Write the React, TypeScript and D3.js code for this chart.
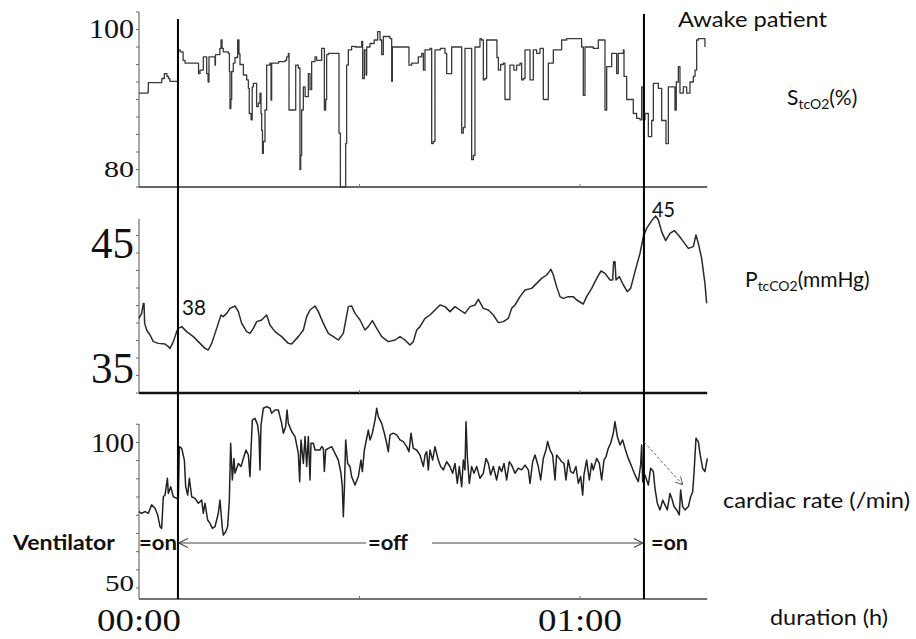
import React from 'react';
import * as d3 from 'd3';

// time in minutes since 00:00
const timeTicks = [0, 60];
const timeLabels = ['00:00', '01:00'];
const minorTimeTicks = [30, 60];
const ventOffStart = 5.3;
const ventOffEnd = 68.7;
const timeEnd = 77.3;

// StcO2 (%)
const spo2Time = [0, 1.2, 1.27, 2.8, 3.1, 3.45, 3.8, 4.0, 4.2, 5.3, 5.35, 5.6, 6.0, 6.26, 7.85, 8.1, 8.3, 8.53, 8.75, 9.0, 9.21, 9.4, 9.52, 10.2, 10.34, 10.4, 10.79, 11.0, 11.16, 11.3, 11.47, 12.16, 12.3, 12.38, 12.5, 12.61, 12.83, 13.06, 13.42, 13.6, 13.74, 14.2, 14.65, 14.88, 15.0, 15.24, 15.4, 15.56, 16.0, 16.24, 16.46, 16.6, 16.69, 16.8, 16.92, 17.14, 17.37, 17.82, 17.96, 18.05, 19.0, 19.86, 20.09, 20.32, 20.41, 21.23, 21.32, 21.68, 21.9, 22.0, 22.13, 22.36, 22.6, 22.81, 23.04, 23.27, 23.49, 23.95, 24.17, 24.85, 25.08, 25.22, 25.4, 25.53, 25.76, 27.12, 27.21, 27.4, 28.03, 28.12, 28.25, 28.48, 28.93, 29.39, 30.29, 30.43, 30.66, 30.9, 30.98, 31.43, 32.0, 32.47, 32.79, 33.02, 33.24, 33.92, 34.15, 34.38, 34.47, 36.64, 36.73, 37.1, 38.0, 38.46, 38.69, 38.91, 39.59, 39.82, 40.04, 40.27, 41.0, 41.63, 41.86, 42.22, 42.54, 43.67, 43.9, 44.13, 44.35, 45.03, 45.26, 45.49, 45.71, 46.39, 46.6, 46.85, 47.07, 47.3, 48.43, 48.7, 48.89, 49.2, 49.57, 49.79, 50.25, 50.47, 51.0, 51.38, 51.84, 52.06, 52.29, 52.52, 53.2, 53.65, 54.1, 54.56, 55.01, 55.46, 55.69, 56.14, 56.37, 57.05, 57.5, 58.18, 60.0, 60.22, 60.45, 60.68, 61.81, 62.49, 63.08, 63.4, 63.63, 64.31, 64.99, 65.21, 65.9, 65.99, 66.35, 67.25, 67.71, 68.16, 68.39, 68.62, 68.84, 69.3, 69.75, 69.98, 70.43, 70.66, 71.11, 71.7, 72.02, 72.7, 72.92, 73.1, 73.38, 73.6, 74.06, 74.51, 74.96, 75.42, 75.65, 75.87, 76.1, 76.78, 77.0];
const spo2Values = [90.9, 91.1, 92.4, 92.4, 93.0, 93.7, 93.3, 93.0, 92.6, 92.6, 97.1, 96.8, 95.6, 95.2, 95.2, 93.7, 94.2, 94.2, 96.1, 96.1, 93.7, 92.5, 96.1, 96.1, 94.9, 96.4, 96.4, 97.3, 98.5, 97.3, 96.8, 96.6, 94.0, 88.7, 90.0, 94.0, 95.2, 96.0, 98.5, 96.5, 95.0, 93.5, 92.8, 91.6, 88.0, 87.1, 91.8, 92.3, 89.0, 89.5, 90.9, 88.0, 85.6, 82.3, 84.0, 88.5, 94.9, 95.2, 89.9, 95.2, 95.4, 95.6, 96.1, 96.6, 88.5, 88.5, 94.9, 94.5, 80.0, 82.0, 88.5, 91.8, 90.4, 90.4, 93.7, 91.4, 95.4, 96.1, 95.6, 97.3, 97.3, 88.5, 90.0, 96.4, 96.6, 96.6, 85.2, 77.5, 77.5, 83.7, 94.9, 97.1, 97.6, 97.5, 98.3, 93.0, 97.1, 93.5, 97.5, 98.0, 98.5, 99.7, 98.5, 96.4, 99.0, 99.0, 98.7, 92.6, 97.5, 97.5, 94.9, 95.2, 96.1, 96.6, 94.2, 97.1, 97.3, 83.7, 84.0, 97.1, 97.3, 96.6, 93.7, 93.7, 97.5, 97.5, 85.2, 86.0, 97.3, 97.3, 81.4, 82.0, 97.5, 98.7, 98.5, 92.8, 93.0, 98.5, 98.5, 96.0, 94.2, 95.0, 95.2, 90.0, 90.0, 94.9, 94.2, 94.9, 95.2, 92.8, 93.0, 97.1, 92.8, 97.1, 96.6, 97.3, 90.0, 90.0, 95.2, 95.2, 97.1, 97.1, 98.5, 98.7, 98.7, 97.5, 90.6, 97.5, 97.3, 98.5, 98.5, 88.5, 94.7, 96.6, 93.7, 96.6, 97.1, 93.3, 90.0, 88.0, 87.3, 87.1, 91.8, 87.1, 88.0, 84.7, 87.0, 92.3, 92.3, 91.6, 87.0, 83.7, 91.8, 91.8, 88.5, 92.5, 94.7, 90.9, 91.8, 90.9, 92.5, 93.3, 94.2, 98.5, 98.7, 98.7, 97.5];

// PtcCO2 (mmHg)
const pco2Time = [0, 0.36, 0.59, 0.68, 0.77, 1.04, 1.5, 1.95, 2.63, 3.54, 3.99, 4.22, 4.67, 5.13, 5.35, 5.81, 6.49, 7.39, 8.3, 8.98, 9.43, 9.89, 10.57, 11.16, 11.47, 11.93, 12.38, 13.06, 13.52, 13.97, 14.65, 15.1, 15.56, 16.01, 16.69, 17.37, 17.82, 18.5, 19.41, 20.32, 20.77, 21.68, 22.36, 22.81, 23.27, 23.95, 24.4, 25.08, 25.76, 26.44, 27.12, 27.8, 28.48, 28.93, 29.39, 30.07, 30.75, 31.2, 31.75, 32.34, 33.02, 33.92, 34.83, 35.51, 36.19, 36.87, 37.32, 37.78, 38.23, 38.91, 39.59, 40.27, 40.95, 41.63, 42.31, 42.99, 43.67, 44.35, 45.03, 45.71, 46.17, 46.85, 47.53, 48.21, 48.89, 49.57, 50.25, 50.7, 51.16, 51.84, 52.52, 53.42, 54.1, 54.78, 55.46, 56.05, 56.37, 56.82, 57.28, 57.73, 58.41, 59.09, 59.55, 60.45, 60.9, 61.59, 62.27, 62.86, 63.4, 64.08, 64.44, 64.58, 64.76, 64.9, 65.35, 65.9, 66.44, 66.89, 67.48, 68.16, 68.62, 69.07, 69.75, 70.29, 70.66, 71.11, 71.65, 72.24, 72.83, 73.38, 74.06, 74.74, 75.42, 75.78, 76.1, 76.55, 77.0, 77.23];
const pco2Values = [38.97, 39.37, 40.17, 40.17, 38.57, 38.04, 37.64, 37.11, 36.97, 36.92, 36.71, 36.57, 37.11, 37.91, 38.17, 38.31, 37.91, 37.51, 36.97, 36.57, 36.44, 36.97, 38.17, 39.24, 39.11, 39.37, 39.77, 39.96, 39.51, 38.57, 37.91, 37.77, 38.17, 38.71, 38.84, 39.24, 38.44, 37.91, 37.51, 36.97, 36.92, 37.51, 38.04, 39.11, 39.64, 39.96, 39.51, 38.57, 37.77, 37.51, 37.24, 37.77, 39.91, 39.96, 39.37, 38.84, 38.04, 38.31, 38.79, 38.17, 37.51, 37.11, 37.24, 37.51, 37.24, 36.84, 37.11, 38.04, 38.31, 38.97, 39.24, 39.64, 40.04, 39.91, 39.51, 39.91, 39.64, 39.37, 39.91, 40.04, 40.49, 39.77, 39.64, 39.24, 38.63, 38.71, 38.97, 39.77, 40.04, 40.71, 41.24, 41.37, 41.77, 42.17, 42.44, 42.89, 42.44, 41.51, 40.71, 40.57, 40.71, 40.71, 40.44, 40.12, 40.71, 41.37, 42.17, 42.76, 42.57, 42.04, 42.04, 43.51, 43.51, 42.04, 42.31, 41.64, 41.11, 41.37, 42.71, 44.17, 45.51, 46.17, 46.79, 47.16, 46.84, 45.91, 45.19, 45.77, 45.99, 45.64, 45.11, 44.57, 44.71, 45.64, 44.97, 43.77, 41.77, 40.17];

// cardiac rate (/min)
const hrTime = [0, 0.36, 0.82, 1.27, 1.72, 2.18, 2.54, 2.86, 3.08, 3.31, 3.54, 3.86, 3.99, 4.31, 4.67, 5.13, 5.35, 5.49, 5.81, 6.17, 6.35, 6.62, 6.85, 7.17, 7.62, 8.07, 8.53, 8.75, 8.98, 9.34, 9.66, 9.98, 10.34, 10.79, 11.02, 11.34, 11.47, 11.79, 12.06, 12.29, 12.47, 12.7, 12.92, 13.06, 13.52, 13.88, 14.2, 14.56, 14.88, 15.1, 15.24, 15.42, 15.78, 16.14, 16.33, 16.46, 16.6, 16.92, 17.37, 17.82, 18.05, 18.5, 18.96, 19.41, 19.64, 19.95, 20.14, 20.32, 20.77, 21.23, 21.68, 21.86, 22.04, 22.36, 22.59, 22.81, 23.04, 23.27, 23.4, 23.72, 23.95, 24.63, 24.85, 25.08, 25.22, 25.4, 25.76, 26.21, 26.67, 27.12, 27.48, 27.66, 27.8, 27.94, 28.12, 28.39, 28.71, 28.93, 29.39, 29.84, 30.2, 30.39, 30.66, 30.98, 31.2, 31.43, 31.75, 32.11, 32.34, 32.56, 33.02, 33.38, 33.7, 33.92, 34.15, 34.6, 35.06, 35.51, 35.96, 36.42, 36.73, 37.01, 37.32, 37.78, 38.23, 38.69, 38.91, 39.14, 39.36, 39.59, 39.95, 40.27, 40.72, 41.04, 41.4, 41.86, 42.31, 42.67, 42.99, 43.31, 43.58, 43.9, 44.13, 44.35, 44.49, 44.67, 44.94, 45.26, 45.58, 45.94, 46.39, 46.85, 47.21, 47.53, 47.84, 48.21, 48.66, 49.02, 49.34, 49.66, 50.02, 50.38, 50.7, 51.16, 51.61, 52.06, 52.52, 52.97, 53.2, 53.56, 53.88, 54.33, 54.65, 55.01, 55.37, 55.6, 55.92, 56.28, 56.6, 56.82, 57.19, 57.5, 57.82, 58.09, 58.41, 58.73, 59.09, 59.45, 59.77, 60.09, 60.36, 60.54, 60.9, 61.27, 61.59, 61.81, 62.27, 62.63, 62.95, 63.26, 63.54, 63.85, 64.17, 64.53, 64.76, 65.08, 65.44, 65.8, 66.12, 66.57, 67.03, 67.48, 67.93, 68.25, 68.39, 68.53, 68.84, 69.3, 69.61, 69.98, 70.2, 70.52, 70.88, 71.25, 71.56, 71.88, 72.24, 72.56, 72.79, 73.15, 73.51, 73.69, 73.97, 74.29, 74.74, 75.06, 75.33, 75.51, 75.78, 76.1, 76.32, 76.69, 77.0, 77.32];
const hrValues = [75.5, 74.9, 75.5, 74.9, 77.9, 76.7, 74.3, 70.1, 69.5, 80.8, 81.4, 87.4, 82.0, 84.4, 80.8, 80.2, 80.2, 98.7, 98.1, 93.9, 84.4, 81.4, 87.4, 80.8, 80.2, 78.5, 79.6, 74.9, 78.5, 72.5, 71.3, 69.5, 70.1, 74.9, 79.6, 69.5, 67.1, 68.3, 70.1, 79.6, 99.9, 86.8, 94.5, 89.2, 92.7, 91.6, 94.5, 97.5, 95.7, 88.0, 97.5, 108.2, 108.8, 106.4, 102.3, 90.4, 106.4, 112.4, 113.0, 112.4, 110.6, 111.8, 111.8, 107.0, 103.5, 105.8, 111.8, 107.0, 104.1, 102.3, 96.3, 86.2, 101.1, 92.7, 102.3, 91.6, 102.3, 86.8, 99.9, 99.9, 97.5, 97.5, 98.7, 98.1, 89.8, 97.5, 98.1, 98.7, 96.3, 93.9, 89.2, 84.4, 73.7, 83.2, 101.1, 92.7, 91.6, 88.0, 85.0, 88.0, 93.9, 89.8, 97.5, 101.7, 104.6, 101.1, 103.5, 108.2, 112.4, 109.4, 107.0, 103.5, 99.9, 96.9, 102.9, 103.5, 102.9, 101.1, 100.5, 98.7, 96.9, 103.5, 98.1, 97.5, 95.7, 91.6, 95.7, 96.9, 90.4, 97.5, 93.9, 98.7, 93.9, 91.6, 90.4, 93.3, 91.6, 89.2, 92.7, 85.6, 91.6, 84.4, 93.9, 90.4, 107.6, 95.1, 85.6, 91.6, 89.2, 91.6, 87.4, 89.2, 94.5, 92.7, 88.6, 91.6, 86.8, 91.6, 89.8, 92.7, 86.8, 93.3, 92.1, 89.2, 91.0, 90.4, 92.1, 90.4, 85.6, 93.3, 95.7, 91.6, 86.8, 94.5, 97.5, 100.5, 97.5, 95.7, 86.8, 95.7, 94.5, 93.3, 92.7, 86.8, 93.9, 89.8, 89.2, 91.6, 85.6, 88.0, 81.4, 88.6, 93.9, 86.8, 92.7, 90.4, 94.5, 92.7, 86.8, 93.9, 95.1, 98.1, 99.9, 103.5, 107.6, 102.3, 99.3, 101.1, 98.1, 94.5, 91.6, 88.6, 86.2, 92.1, 99.3, 86.2, 88.6, 85.0, 91.0, 89.8, 83.8, 78.5, 76.1, 79.6, 77.9, 76.1, 82.0, 79.6, 77.3, 76.1, 74.3, 83.2, 77.3, 76.1, 77.3, 80.8, 82.6, 89.2, 101.7, 100.5, 96.3, 90.9, 89.8, 94.5];

// axis labels
const spo2Labels = [100, 80];
const pco2Labels = [45, 35];
const hrLabels = [100, 50];

const serif = '"Liberation Serif", "Times New Roman", serif';
const sans = 'Lato, "Open Sans", sans-serif';

const x = d3.scaleLinear().domain([0, 60]).range([139, 580]);
const ySpo2 = d3.scaleLinear().domain([80, 100]).range([169.5, 29.5]);
const yPco2 = d3.scaleLinear().domain([35, 45]).range([368, 243]);
const yHr = d3.scaleLinear().domain([50, 100]).range([583, 443]);

const panels = [
  { y: ySpo2, time: spo2Time, values: spo2Values, lo: 77.5, hi: 102.5, minor: d3.range(77.5, 102.6, 2.5),
    labels: spo2Labels, sizes: [27, 24], widths: [45, 30], stroke: '#3a3a3a', sw: 1.3, curve: d3.curveStepAfter,
    base: { c: '#333', w: 1.5 } },
  { y: yPco2, time: pco2Time, values: pco2Values, lo: 33, hi: 46.92, minor: d3.range(33, 47, 1.4),
    labels: pco2Labels, sizes: [44, 44], widths: [43, 43], stroke: '#2a2a2a', sw: 1.5, curve: d3.curveLinear,
    base: { c: '#111', w: 2.5 } },
  { y: yHr, time: hrTime, values: hrValues, lo: 44.3, hi: 106.8, minor: d3.range(48.2, 107, 6.5),
    labels: hrLabels, sizes: [28, 23], widths: [43, 29], stroke: '#222', sw: 1.5, curve: d3.curveLinear,
    base: { c: '#444', w: 1.5 } },
];

export default function App() {
  const x0 = x(0);
  const x1 = x(timeEnd);
  const vx1 = x(ventOffStart);
  const vx2 = x(ventOffEnd);
  const arrowY = 543;

  return (
    <div style={{ position: 'absolute', left: 0, top: 0 }}>
      <svg width={916} height={639} style={{ display: 'block', background: '#fff' }}>
        <defs>
          <marker id="openArrow" viewBox="0 0 10 10" refX="10" refY="5" markerWidth="9" markerHeight="10"
            markerUnits="userSpaceOnUse" orient="auto">
            <path d="M0,0 L10,5 L0,10" fill="none" stroke="#444" strokeWidth={1.2} />
          </marker>
          <marker id="dashArrow" viewBox="0 0 10 10" refX="10" refY="5" markerWidth="8" markerHeight="8"
            markerUnits="userSpaceOnUse" orient="auto">
            <path d="M0,0 L10,5 L0,10" fill="none" stroke="#666" strokeWidth={1.2} />
          </marker>
        </defs>

        {panels.map((p, i) => {
          const line = d3.line<number>().x((_, k) => x(p.time[k])).y(v => p.y(v)).curve(p.curve);
          const yBottom = p.y(p.lo);
          return (
            <g key={i}>
              {/* y axis */}
              <line x1={x0} x2={x0} y1={p.y(p.hi)} y2={yBottom} stroke="#555" strokeWidth={1} />
              {p.minor.map(v => (
                <line key={v} x1={x0 - 3} x2={x0} y1={p.y(v)} y2={p.y(v)} stroke="#666" strokeWidth={1} />
              ))}
              {p.labels.map((v, k) => (
                <text key={v} x={134} y={p.y(v) + p.sizes[k] * 0.33} textAnchor="end" fontFamily={serif}
                  fontSize={p.sizes[k]} textLength={p.widths[k]} lengthAdjust="spacingAndGlyphs" fill="#111">
                  {v}
                </text>
              ))}
              {/* baseline */}
              <line x1={x0} x2={x1} y1={yBottom} y2={yBottom} stroke={p.base.c} strokeWidth={p.base.w} />
              {minorTimeTicks.map(t => (
                <line key={t} x1={x(t)} x2={x(t)} y1={yBottom - 3} y2={yBottom} stroke="#777" strokeWidth={1} />
              ))}
              <path d={line(p.values) || ''} fill="none" stroke={p.stroke} strokeWidth={p.sw}
                strokeLinejoin="round" />
            </g>
          );
        })}

        {/* ventilator switch markers */}
        <line x1={vx1} x2={vx1} y1={19} y2={599} stroke="#000" strokeWidth={2} />
        <line x1={vx2} x2={vx2} y1={14} y2={599} stroke="#000" strokeWidth={2} />

        {/* time labels */}
        {timeTicks.map((t, k) => (
          <text key={t} x={x(t)} y={631} textAnchor="middle" fontFamily={serif} fontSize={32}
            textLength={84} lengthAdjust="spacingAndGlyphs" fill="#111">{timeLabels[k]}</text>
        ))}

        {/* annotations */}
        <text x={182} y={315} fontFamily={sans} fontSize={21} textLength={24} lengthAdjust="spacingAndGlyphs" fill="#111">38</text>
        <text x={652} y={217} fontFamily={sans} fontSize={21} textLength={23} lengthAdjust="spacingAndGlyphs" fill="#111">45</text>

        <line x1={x(ventOffEnd)} y1={yHr(100.4)} x2={x(74.0)} y2={yHr(85)} stroke="#666" strokeWidth={1}
          strokeDasharray="3,2" markerEnd="url(#dashArrow)" />

        {/* ventilator row */}
        <text x={13} y={550} fontFamily={sans} fontWeight={700} fontSize={21} textLength={102}
          lengthAdjust="spacingAndGlyphs" fill="#111">Ventilator</text>
        <text x={139} y={550} fontFamily={sans} fontWeight={700} fontSize={21} textLength={38}
          lengthAdjust="spacingAndGlyphs" fill="#111">=on</text>
        <text x={368} y={550} fontFamily={sans} fontWeight={700} fontSize={21} textLength={40}
          lengthAdjust="spacingAndGlyphs" fill="#111">=off</text>
        <text x={651} y={550} fontFamily={sans} fontWeight={700} fontSize={21} textLength={37}
          lengthAdjust="spacingAndGlyphs" fill="#111">=on</text>
        <line x1={366} x2={vx1 + 1} y1={arrowY} y2={arrowY} stroke="#444" strokeWidth={1.2} markerEnd="url(#openArrow)" />
        <line x1={432} x2={vx2 - 1} y1={arrowY} y2={arrowY} stroke="#444" strokeWidth={1.2} markerEnd="url(#openArrow)" />

        {/* right labels */}
        <text x={678} y={27} fontFamily={sans} fontSize={21} textLength={149} lengthAdjust="spacingAndGlyphs" fill="#111">Awake patient</text>
        <text x={787} y={105} fontFamily={sans} fontSize={21} fill="#111">
          S<tspan fontSize={14} dy={4}>tcO2</tspan><tspan dy={-4}>(%)</tspan>
        </text>
        <text x={745} y={287} fontFamily={sans} fontSize={21} fill="#111">
          P<tspan fontSize={14} dy={4}>tcCO2</tspan><tspan dy={-4}>(mmHg)</tspan>
        </text>
        <text x={723} y={508} fontFamily={sans} fontSize={21} textLength={187} lengthAdjust="spacingAndGlyphs" fill="#111">cardiac rate (/min)</text>
        <text x={770} y={625} fontFamily={sans} fontSize={21} textLength={118} lengthAdjust="spacingAndGlyphs" fill="#111">duration (h)</text>
      </svg>
    </div>
  );
}
